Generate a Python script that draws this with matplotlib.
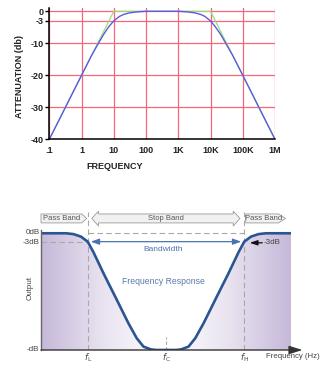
import numpy as np
import matplotlib.pyplot as plt
from matplotlib.patches import Polygon
from matplotlib.colors import LinearSegmentedColormap

plt.rcParams['font.family'] = ['Liberation Sans', 'DejaVu Sans']

# ---- top chart: bode plot
freq = [0.1, 0.2, 0.5, 1, 2, 3, 5, 7, 10, 15, 20, 30, 50, 100, 1000, 2000,
        3300, 5000, 6700, 10000, 14000, 20000, 33000, 50000, 100000, 200000,
        500000, 1000000]
atten = [-40, -34, -26, -20, -14, -10.8, -7, -4.8, -3, -1.6, -1, -0.5, -0.2, 0,
         0, -0.2, -0.5, -1, -1.6, -3, -4.8, -7, -10.8, -14, -20, -26, -34, -40]
asym_freq = [0.1, 10, 10000, 1000000]
asym_atten = [-40, 0, 0, -40]
xticks = [0.1, 1, 10, 100, 1000, 10000, 100000, 1000000]
xlabels = ['.1', '1', '10', '100', '1K', '10K', '100K', '1M']
yticks = [0, -3, -10, -20, -30, -40]
ylabels = ['0', '-3', '-10', '-20', '-30', '-40']

# ---- bottom chart: band stop sketch (x = relative frequency 0..100, y = dB)
resp_x = [0, 10, 13, 16, 18.7, 21, 25, 30, 35, 38.3, 41, 44, 46,
          54, 56, 59, 61.7, 65, 70, 75, 79, 81.3, 84, 87, 90, 100]
resp_y = [0, 0, -0.3, -1.2, -3, -6.8, -14.3, -23.2, -32.2, -37.5, -40.5, -41.5, -41.7,
          -41.7, -41.5, -40.5, -37.5, -32.2, -23.2, -14.3, -6.8, -3, -1.2, -0.3, 0, 0]
f_low, f_center, f_high = 18.7, 50, 81.3
bottom_db = -41.7

W, H = 323, 366
fig = plt.figure(figsize=(W / 100, H / 100), dpi=100)

def box(l, t, r, b):
    return [l / W, 1 - b / H, (r - l) / W, (b - t) / H]

ax = fig.add_axes(box(49.3, 8.1, 275, 139.3))
grid_c = '#f5677a'
ax.plot(asym_freq, asym_atten, color='#98e07a', lw=0.9, zorder=3)
ax.plot(freq, atten, color='#5b5be0', lw=1.0, zorder=4)
ax.set_xscale('log')
ax.set_xlim(0.1, 1e6)
ax.set_ylim(-40, 1)
ax.set_xticks(xticks)
ax.set_xticklabels(xlabels)
ax.set_yticks(yticks)
ax.set_yticklabels(ylabels)
ax.minorticks_off()
ax.grid(True, color=grid_c, lw=0.9)
for s in ['top', 'right']:
    ax.spines[s].set_visible(False)
for s in ['left', 'bottom']:
    ax.spines[s].set_linewidth(1.1)
    ax.spines[s].set_zorder(5)
ax.tick_params(axis='y', length=3, width=1, pad=1, labelsize=6.5)
ax.tick_params(axis='x', length=0, pad=4.5, labelsize=6.5)
for t in ax.get_xticklabels() + ax.get_yticklabels():
    t.set_fontweight('bold')
    t.set_color('#222222')
fig.text(115 / W, 1 - 166 / H, 'FREQUENCY', ha='center', va='center',
         fontsize=6.5, fontweight='bold', color='#222222')
fig.text(20 / W, 1 - 77 / H, 'ATTENUATION (db)', ha='center', va='center',
         rotation=90, fontsize=6.5, fontweight='bold', color='#222222')

# ---- bottom chart
ax2 = fig.add_axes(box(41, 205, 291, 350))
ax2.set_xlim(0, 100)
ax2.set_ylim(bottom_db, 10.1)
ax2.axis('off')

# gradient shading under the response curve
cmap = LinearSegmentedColormap.from_list('lav', ['#c6b9d9', '#e9e3f0', '#ffffff'])
gx = np.linspace(0, 100, 300)
gval = np.abs(gx - 50) / 50
img = ax2.imshow(np.vstack([1 - gval, 1 - gval]), extent=(0, 100, bottom_db, 0),
                 aspect='auto', cmap=cmap, vmin=0, vmax=1, zorder=1)
poly = Polygon(list(zip(resp_x, resp_y)) + [(100, bottom_db), (0, bottom_db)],
               closed=True, transform=ax2.transData, facecolor='none', edgecolor='none')
ax2.add_patch(poly)
img.set_clip_path(poly)

dash_c = '#a8a8a8'
ax2.plot([f_low, f_low], [bottom_db, 7.7], ls=(0, (5, 3)), color=dash_c, lw=0.8, zorder=2)
ax2.plot([f_high, f_high], [bottom_db, 7.7], ls=(0, (5, 3)), color=dash_c, lw=0.8, zorder=2)
ax2.plot([f_center, f_center], [bottom_db, -37.1], ls=(0, (3, 2)), color=dash_c, lw=0.8, zorder=2)
ax2.plot([f_low, f_high], [0, 0], ls=(0, (5, 3)), color=dash_c, lw=0.8, zorder=2)
ax2.plot([0, f_low], [-3, -3], ls=(0, (5, 3)), color=dash_c, lw=0.8, zorder=2)

ax2.plot(resp_x, resp_y, color='#2b5591', lw=1.9, zorder=4, solid_capstyle='butt')

# axes lines
ax2.plot([0, 0], [bottom_db, 1.2], color='#666666', lw=1.0, zorder=5, clip_on=False)
ax2.annotate('', xy=(104.6, bottom_db), xytext=(0, bottom_db),
             arrowprops=dict(arrowstyle='-|>,head_length=0.8,head_width=0.25',
                             color='#333333', lw=1.0, shrinkA=0, shrinkB=0),
             annotation_clip=False, zorder=5)

# bandwidth arrow and texts
blue_t = '#4a74b0'
ax2.annotate('', xy=(f_high - 1.2, -3), xytext=(f_low + 1.2, -3),
             arrowprops=dict(arrowstyle='<|-|>,head_length=0.5,head_width=0.18',
                             color=blue_t, lw=0.9, shrinkA=0, shrinkB=0), zorder=5)
ax2.text(49, -5.9, 'Bandwidth', ha='center', va='center', fontsize=6, color=blue_t)
ax2.text(49, -17.4, 'Frequency Response', ha='center', va='center', fontsize=6.2,
         color='#5a78aa')
ax2.annotate('', xy=(f_high + 2.2, -3.4), xytext=(88.5, -3.4),
             arrowprops=dict(arrowstyle='-|>,head_length=0.45,head_width=0.15',
                             color='#111111', lw=0.9, shrinkA=0, shrinkB=0),
             annotation_clip=False, zorder=6)
ax2.text(89, -3.4, '-3dB', ha='left', va='center', fontsize=5.8, color='#444444')

# band labels
band_fill, band_edge, band_txt = '#f1f1f1', '#9a9a9a', '#555555'
yb0, yb1, ym = 3.7, 6.9, 5.3
ax2.add_patch(Polygon([(0, yb0), (16.3, yb0), (18.3, ym), (16.3, yb1), (0, yb1)],
                      closed=True, fc=band_fill, ec=band_edge, lw=0.6, clip_on=False))
ax2.text(8.2, ym, 'Pass Band', ha='center', va='center', fontsize=5.5, color=band_txt)
ax2.add_patch(Polygon([(81.9, yb0), (95, yb0), (97.8, ym), (95, yb1), (81.9, yb1)],
                      closed=True, fc=band_fill, ec=band_edge, lw=0.6, clip_on=False))
ax2.text(89, ym, 'Pass Band', ha='center', va='center', fontsize=5.5, color=band_txt)
ax2.add_patch(Polygon([(20.3, ym), (23, 7.9), (23, yb1), (76.9, yb1), (76.9, 7.9),
                       (79.6, ym), (76.9, 2.6), (76.9, yb0), (23, yb0), (23, 2.6)],
                      closed=True, fc=band_fill, ec=band_edge, lw=0.6, clip_on=False))
ax2.text(49.9, ym, 'Stop Band', ha='center', va='center', fontsize=5.5, color=band_txt)

# axis texts
lab_c = '#444444'
ax2.text(-0.6, 0.3, '0dB', ha='right', va='center', fontsize=5.8, color=lab_c, clip_on=False)
ax2.text(-0.6, -3.2, '-3dB', ha='right', va='center', fontsize=5.8, color=lab_c, clip_on=False)
ax2.text(-0.6, bottom_db + 0.3, '-dB', ha='right', va='center', fontsize=5.8, color=lab_c,
         clip_on=False)
ax2.text(-4.4, -19.6, 'Output', ha='center', va='center', rotation=90, fontsize=5.8,
         color=lab_c, clip_on=False)
ax2.text(f_low, bottom_db - 2.7, '$f_{\\rm L}$', ha='center', va='center', fontsize=6.2,
         color=lab_c, clip_on=False)
ax2.text(f_center, bottom_db - 2.7, '$f_{\\rm C}$', ha='center', va='center', fontsize=6.2,
         color=lab_c, clip_on=False)
ax2.text(f_high, bottom_db - 2.7, '$f_{\\rm H}$', ha='center', va='center', fontsize=6.2,
         color=lab_c, clip_on=False)
ax2.text(90.2, bottom_db - 2.5, 'Frequency (Hz)', ha='left', va='center', fontsize=5.6,
         color=lab_c, clip_on=False)

fig.savefig('out.png', dpi=100)
